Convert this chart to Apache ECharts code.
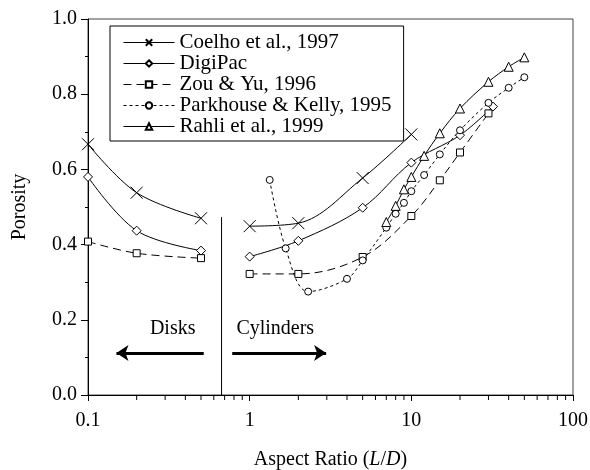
<!DOCTYPE html>
<html><head><meta charset="utf-8">
<script src="https://cdn.jsdelivr.net/npm/echarts@6/dist/echarts.min.js"></script>
<style>html,body{margin:0;padding:0;background:#fff}#c{width:590px;height:470px}</style>
</head><body><div id="c"></div>
<script>
// ---- data ----
const coelhoDiskX = [0.1, 0.2, 0.5];
const coelhoDiskY = [0.667, 0.538, 0.470];
const coelhoCylX = [1, 2, 5, 10];
const coelhoCylY = [0.449, 0.457, 0.577, 0.693];

const digiDiskX = [0.1, 0.2, 0.5];
const digiDiskY = [0.580, 0.437, 0.384];
const digiCylX = [1, 2, 5, 10, 20, 32];
const digiCylY = [0.368, 0.410, 0.498, 0.618, 0.691, 0.767];

const zouDiskX = [0.1, 0.2, 0.5];
const zouDiskY = [0.408, 0.377, 0.364];
const zouCylX = [1, 2, 5, 10, 15, 20, 30];
const zouCylY = [0.322, 0.322, 0.367, 0.476, 0.571, 0.645, 0.749];

const parkX = [1.33, 1.67, 2.3, 4, 5, 7, 8, 9, 10, 12, 15, 20, 30, 40, 50];
const parkY = [0.572, 0.390, 0.275, 0.309, 0.358, 0.445, 0.482, 0.511, 0.542, 0.585, 0.640, 0.704, 0.777, 0.817, 0.845];

const rahliX = [7, 8, 9, 10, 12, 15, 20, 30, 40, 50];
const rahliY = [0.460, 0.503, 0.547, 0.580, 0.636, 0.696, 0.762, 0.833, 0.873, 0.898];

const seriesNames = ['Coelho et al., 1997', 'DigiPac', 'Zou & Yu, 1996', 'Parkhouse & Kelly, 1995', 'Rahli et al., 1999'];
const xMinorTicks = [0.2, 0.3, 0.4, 0.5, 0.6, 0.7, 0.8, 0.9, 2, 3, 4, 5, 6, 7, 8, 9, 20, 30, 40, 50, 60, 70, 80, 90];
const yTicks = [0, 0.2, 0.4, 0.6, 0.8, 1.0];

// divider between disks and cylinders, arrows, and labels (data coordinates)
const dividerX = 0.67, dividerTop = 0.473;
const arrowY = 0.112;
const disksArrow = [0.52, 0.15];
const cylArrow = [0.78, 2.97];
const disksText = {x: 0.334, y: 0.176, text: 'Disks'};
const cylText = {x: 1.44, y: 0.176, text: 'Cylinders'};

// ---- chart ----
const FONT = '"Liberation Serif", "Times New Roman", serif';
const pts = (xs, ys) => xs.map((x, i) => [x, ys[i]]);
const ist = {color: '#fff', borderColor: '#000', borderWidth: 1};
const crossPath = 'path://M0,0L10,10M10,0L0,10';

function mk(name, xs, ys, symbol, size, dash) {
  return {
    name, type: 'line', data: pts(xs, ys), smooth: 0.35,
    symbol, symbolSize: size, showAllSymbol: true,
    itemStyle: ist,
    lineStyle: {color: '#000', width: 1, type: dash || 'solid'},
    z: 3, animation: false
  };
}

const series = [
  mk(seriesNames[0], coelhoDiskX, coelhoDiskY, crossPath, 12),
  mk(seriesNames[0], coelhoCylX, coelhoCylY, crossPath, 12),
  mk(seriesNames[1], digiDiskX, digiDiskY, 'diamond', 9),
  mk(seriesNames[1], digiCylX, digiCylY, 'diamond', 9),
  mk(seriesNames[2], zouDiskX, zouDiskY, 'rect', 7, [8, 5]),
  mk(seriesNames[2], zouCylX, zouCylY, 'rect', 7, [8, 5]),
  mk(seriesNames[3], parkX, parkY, 'circle', 7, [3, 3]),
  mk(seriesNames[4], rahliX, rahliY, 'triangle', 9),
  {
    name: 'divider', type: 'line', data: [[dividerX, 0], [dividerX, dividerTop]],
    symbol: 'none', lineStyle: {color: '#000', width: 1}, animation: false, silent: true,
    markLine: {
      silent: true, animation: false, symbol: ['none', 'arrow'], symbolSize: [12, 12],
      label: {show: false},
      lineStyle: {color: '#000', width: 3, type: 'solid'},
      data: [
        [{coord: [disksArrow[0], arrowY]}, {coord: [disksArrow[1], arrowY]}],
        [{coord: [cylArrow[0], arrowY]}, {coord: [cylArrow[1], arrowY]}]
      ]
    },
    markPoint: {
      silent: true, animation: false, symbol: 'circle', symbolSize: 0,
      label: {show: true, position: 'inside', formatter: '{b}', color: '#000', fontSize: 20, fontFamily: FONT},
      data: [
        {name: disksText.text, coord: [disksText.x, disksText.y]},
        {name: cylText.text, coord: [cylText.x, cylText.y]}
      ]
    }
  },
  {
    name: 'xminor', type: 'scatter', data: xMinorTicks.map(v => [v, 0]), silent: true, clip: false,
    animation: false, symbol: 'rect', symbolSize: [1, 5], symbolOffset: [0, 2.5],
    itemStyle: {color: '#000', opacity: 1}, z: 5
  }
];

const chart = echarts.init(document.getElementById('c'), null, {renderer: 'canvas'});
chart.setOption({
  backgroundColor: '#fff',
  animation: false,
  textStyle: {fontFamily: FONT},
  grid: {left: 88, right: 17, top: 19, bottom: 75, outerBoundsMode: 'none', containLabel: false,
    show: true, borderColor: '#444', borderWidth: 1, backgroundColor: 'transparent'},
  legend: {
    data: seriesNames, orient: 'vertical', left: 110, top: 26,
    padding: [6, 12, 4, 13], itemGap: 0, itemWidth: 51, itemHeight: 8,
    backgroundColor: '#fff', borderColor: '#000', borderWidth: 1,
    lineStyle: {width: 1},
    textStyle: {fontFamily: FONT, fontSize: 21, color: '#000', lineHeight: 21},
    selectedMode: false
  },
  xAxis: {
    type: 'log', logBase: 10, min: 0.1, max: 100,
    name: 'Aspect Ratio ({i|L}/{i|D})', nameLocation: 'middle', nameGap: 55,
    nameTextStyle: {fontFamily: FONT, fontSize: 20, color: '#000',
      rich: {i: {fontStyle: 'italic', fontFamily: FONT, fontSize: 20, color: '#000'}}},
    axisLine: {lineStyle: {color: '#000', width: 1}},
    axisTick: {show: true, inside: false, length: 6, lineStyle: {color: '#000'}},
    axisLabel: {color: '#000', fontSize: 20, fontFamily: FONT, margin: 16,
      formatter: v => (v < 1 ? v.toFixed(1) : String(Math.round(v)))},
    splitLine: {show: false}
  },
  yAxis: {
    type: 'value', min: yTicks[0], max: yTicks[yTicks.length - 1], interval: 0.2,
    name: 'Porosity', nameLocation: 'middle', nameGap: 58,
    nameTextStyle: {fontFamily: FONT, fontSize: 20, color: '#000'},
    axisLine: {show: true, lineStyle: {color: '#000', width: 1}},
    axisTick: {show: true, inside: false, length: 7, lineStyle: {color: '#000'}},
    minorTick: {show: true, splitNumber: 2, length: 3, lineStyle: {color: '#000'}},
    axisLabel: {color: '#000', fontSize: 20, fontFamily: FONT, margin: 11, formatter: v => v.toFixed(1)},
    splitLine: {show: false}
  },
  series
});
</script></body></html>
